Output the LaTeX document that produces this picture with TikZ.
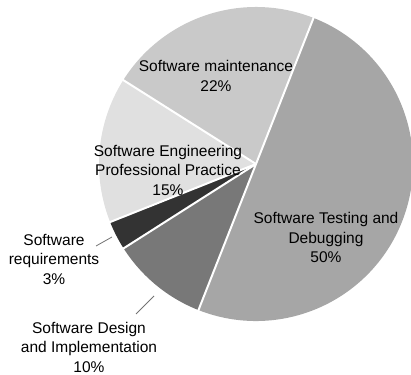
\documentclass[tikz,border=0pt]{standalone}
\usepackage{fontspec}
\setmainfont{Liberation Sans}
\begin{document}
\begin{tikzpicture}[x=1pt,y=1pt,
  slice/.style={draw=white,line width=2pt,line join=round},
  lbl/.style={align=center,inner sep=0pt,font=\fontsize{15.5}{19.5}\selectfont},
  leader/.style={draw=black!55,line width=0.8pt}]
\useasboundingbox (0,0) rectangle (411,374);
\coordinate (c) at (256,210);
\def\R{157}
\fill[black!35] (c) -- ++(68.5:\R) arc[start angle=68.5,end angle=-111.5,radius=\R] -- cycle;
\fill[black!21] (c) -- ++(68.5:\R) arc[start angle=68.5,end angle=147.7,radius=\R] -- cycle;
\fill[black!12] (c) -- ++(147.7:\R) arc[start angle=147.7,end angle=201.7,radius=\R] -- cycle;
\fill[black!80] (c) -- ++(201.7:\R) arc[start angle=201.7,end angle=212.5,radius=\R] -- cycle;
\fill[black!53] (c) -- ++(212.5:\R) arc[start angle=212.5,end angle=248.5,radius=\R] -- cycle;
\foreach \a in {68.5,147.7,201.7,212.5,248.5}
  \draw[slice] (c) -- ++(\a:\R+2);
\node[lbl] (lm) at (216,298) {Software maintenance\\22\%};
\node[lbl] (le) at (168,204) {Software Engineering\\Professional Practice\\15\%};
\node[lbl] (lt) at (326,136.5) {Software Testing and\\Debugging\\50\%};
\node[lbl] (lr) at (54,115) {Software\\requirements\\3\%};
\node[lbl] (ld) at (89,27) {Software Design\\and Implementation\\10\%};
\coordinate (rs) at (96,128);
\coordinate (re) at (112,137);
\coordinate (ds) at (136,60);
\coordinate (de) at (154,78);
\draw[leader] (rs) -- (re);
\draw[leader] (ds) -- (de);
\end{tikzpicture}
\end{document}
